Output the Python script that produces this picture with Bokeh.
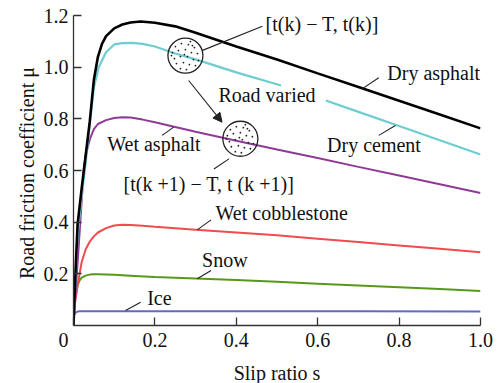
import numpy as np
from bokeh.plotting import figure
from bokeh.models import FixedTicker, Arrow, NormalHead
from bokeh.core.properties import value
from bokeh.embed import file_html
from bokeh.resources import INLINE

# ---------------- data ----------------
s_dry_asphalt = [0, 0.005, 0.01, 0.02, 0.03, 0.04, 0.05, 0.06, 0.07, 0.08, 0.10, 0.12, 0.14,
                 0.165, 0.20, 0.25, 0.30, 0.40, 0.50, 0.60, 0.70, 0.80, 0.90, 1.00]
mu_dry_asphalt = [0.0, 0.21, 0.39, 0.53, 0.66, 0.79, 0.95, 1.04, 1.09, 1.12, 1.15, 1.165, 1.173,
                  1.177, 1.172, 1.158, 1.133, 1.08, 1.03, 0.976, 0.923, 0.87, 0.817, 0.763]

s_dry_cement = [0, 0.005, 0.01, 0.02, 0.03, 0.04, 0.05, 0.062, 0.08, 0.10, 0.12, 0.144, 0.17,
                0.20, 0.25, 0.30, 0.40, 0.51, 0.62, 0.70, 0.80, 0.90, 1.00]
mu_dry_cement = [0.0, 0.18, 0.35, 0.50, 0.63, 0.78, 0.92, 1.0, 1.058, 1.088, 1.093, 1.094, 1.09,
                 1.08, 1.053, 1.03, 0.98, 0.929, 0.871, 0.827, 0.772, 0.717, 0.662]
road_varied_gap = (0.51, 0.62)

s_wet_asphalt = [0, 0.005, 0.01, 0.015, 0.02, 0.025, 0.03, 0.04, 0.05, 0.06, 0.08, 0.10, 0.12,
                 0.14, 0.17, 0.20, 0.30, 0.40, 0.50, 0.60, 0.70, 0.80, 0.90, 1.00]
mu_wet_asphalt = [0.0, 0.13, 0.24, 0.36, 0.48, 0.60, 0.66, 0.72, 0.76, 0.78, 0.795, 0.803, 0.806,
                  0.805, 0.797, 0.787, 0.75, 0.715, 0.681, 0.648, 0.614, 0.581, 0.547, 0.513]

s_wet_cobble = [0, 0.005, 0.01, 0.02, 0.03, 0.04, 0.05, 0.06, 0.08, 0.10, 0.12, 0.14, 0.17,
                0.20, 0.30, 0.40, 0.50, 0.60, 0.70, 0.80, 0.90, 1.00]
mu_wet_cobble = [0.045, 0.10, 0.155, 0.245, 0.295, 0.325, 0.345, 0.36, 0.377, 0.387, 0.39, 0.389,
                 0.386, 0.382, 0.371, 0.36, 0.349, 0.336, 0.323, 0.31, 0.297, 0.284]

s_snow = [0.006, 0.01, 0.015, 0.02, 0.03, 0.04, 0.05, 0.06, 0.08, 0.10, 0.15, 0.20, 0.30,
          0.40, 0.50, 0.60, 0.70, 0.80, 0.90, 1.00]
mu_snow = [0.12, 0.155, 0.175, 0.185, 0.193, 0.197, 0.198, 0.198, 0.197, 0.196, 0.192, 0.188,
           0.182, 0.176, 0.169, 0.162, 0.155, 0.148, 0.141, 0.134]

s_ice = [0, 0.003, 0.006, 0.01, 0.015, 0.03, 0.10, 0.30, 0.50, 0.70, 1.00]
mu_ice = [0.035, 0.046, 0.051, 0.054, 0.055, 0.055, 0.055, 0.055, 0.055, 0.055, 0.054]

x_ticks = [0.0, 0.2, 0.4, 0.6, 0.8, 1.0]
# the origin "0" sits a little left of the corner in the original
x_tick_labels = ["0\u00a0\u00a0\u00a0\u00a0", "0.2", "0.4", "0.6", "0.8", "1.0"]
y_ticks = [0.2, 0.4, 0.6, 0.8, 1.0, 1.2]
y_tick_labels = ["0.2", "0.4", "0.6", "0.8", "1.0", "1.2"]

# ---------------- styling ----------------
FONT = "'Liberation Serif', 'Times New Roman', serif"
FS = "20px"
C_BLACK = "#000000"
C_CYAN = "#6DCDD0"
C_PURPLE = "#8E3A96"
C_RED = "#F04B4E"
C_GREEN = "#57981A"
C_BLUE = "#6468C0"
C_AX = "#333333"

p = figure(frame_width=407, frame_height=310, x_range=(0, 1.0), y_range=(0, 1.2),
           output_backend="svg", toolbar_location=None,
           min_border_left=73, min_border_right=20, min_border_top=15, min_border_bottom=58)
p.outline_line_color = None
p.xgrid.grid_line_color = None
p.ygrid.grid_line_color = None
p.background_fill_color = "white"

for ax in (p.xaxis[0], p.yaxis[0]):
    ax.axis_line_color = C_AX
    ax.axis_line_width = 1.3
    ax.major_tick_line_color = C_AX
    ax.major_tick_line_width = 1.3
    ax.major_tick_in = 8
    ax.major_tick_out = 0
    ax.minor_tick_line_color = None
    ax.major_label_text_font = FONT
    ax.major_label_text_font_size = FS
    ax.major_label_text_color = "#111111"
    ax.axis_label_text_font = FONT
    ax.axis_label_text_font_size = FS
    ax.axis_label_text_font_style = "normal"
    ax.axis_label_text_color = "#111111"

p.xaxis.ticker = FixedTicker(ticks=x_ticks)
p.xaxis.major_label_overrides = {t: l for t, l in zip(x_ticks, x_tick_labels)}
p.yaxis.ticker = FixedTicker(ticks=y_ticks)
p.yaxis.major_label_overrides = {t: l for t, l in zip(y_ticks, y_tick_labels)}
p.xaxis.major_label_standoff = 3
p.yaxis.major_label_standoff = 5
p.xaxis.axis_label = "Slip ratio s"
p.yaxis.axis_label = "Road friction coefficient  μ"
p.xaxis.axis_label_standoff = 8
p.yaxis.axis_label_standoff = 3

# ---------------- curves ----------------
p.line(s_ice, mu_ice, line_color=C_BLUE, line_width=2)
p.line(s_snow, mu_snow, line_color=C_GREEN, line_width=2)
p.line(s_wet_cobble, mu_wet_cobble, line_color=C_RED, line_width=2)
p.line(s_wet_asphalt, mu_wet_asphalt, line_color=C_PURPLE, line_width=2)
sc = np.array(s_dry_cement)
mc = np.array(mu_dry_cement)
m1 = sc <= road_varied_gap[0]
m2 = sc >= road_varied_gap[1]
p.line(sc[m1], mc[m1], line_color=C_CYAN, line_width=2.2)
p.line(sc[m2], mc[m2], line_color=C_CYAN, line_width=2.2)
p.line(s_dry_asphalt, mu_dry_asphalt, line_color=C_BLACK, line_width=2.6)

# ---------------- annotations ----------------
PX_S = 1 / 407.0    # s per pixel
PX_MU = 1 / 258.3   # mu per pixel

circle_centers = [(0.275, 1.045), (0.41, 0.723)]
dot_px = [(-10, -9), (-4, -12), (3, -11), (9, -8), (-13, -3), (-7, -5), (0, -6), (6, -3),
          (12, -2), (-11, 3), (-5, 1), (2, 1), (8, 4), (13, 5), (-9, 8), (-2, 7), (4, 9),
          (10, 10), (-5, 13), (1, 14), (-14, 0), (5, -14), (-1, -1), (7, -10)]
for cx, cy in circle_centers:
    p.scatter([cx], [cy], marker="circle", size=35, fill_color=None,
              line_color="#222222", line_width=1.3)
    dx = [cx + a * PX_S for a, b in dot_px]
    dy = [cy - b * PX_MU for a, b in dot_px]
    p.scatter(dx, dy, marker="circle", size=1.8, fill_color="#222222", line_color=None)

p.add_layout(Arrow(end=NormalHead(size=9, fill_color="#222222", line_color="#222222"),
                   x_start=0.283, y_start=0.9485, x_end=0.365, y_end=0.787,
                   line_color="#222222", line_width=1.1))

leaders = [
    ((0.317, 1.065), (0.464, 1.158)),
    ((0.750, 0.959), (0.709, 0.916)),
    ((0.791, 0.774), (0.750, 0.736)),
    ((0.246, 0.768), (0.218, 0.736)),
    ((0.338, 0.409), (0.304, 0.370)),
    ((0.338, 0.213), (0.304, 0.181)),
    ((0.165, 0.090), (0.128, 0.058)),
    ((0.382, 0.645), (0.345, 0.606)),
]
p.segment(x0=[a[0] for a, b in leaders], y0=[a[1] for a, b in leaders],
          x1=[b[0] for a, b in leaders], y1=[b[1] for a, b in leaders],
          line_color="#222222", line_width=1.1)

labels = [
    ("[t(k) − T, t(k)]", 0.472, 1.169),
    ("Road varied", 0.356, 0.894),
    ("[t(k +1) − T, t (k +1)]", 0.123, 0.546),
    ("Dry asphalt", 0.771, 0.976),
    ("Dry cement", 0.623, 0.697),
    ("Wet asphalt", 0.083, 0.701),
    ("Wet cobblestone", 0.349, 0.437),
    ("Snow", 0.316, 0.252),
    ("Ice", 0.181, 0.106),
]
p.text(x=[l[1] for l in labels], y=[l[2] for l in labels], text=[l[0] for l in labels],
       text_font=value(FONT), text_font_size=FS, text_color="#111111",
       text_align="left", text_baseline="middle")

open("out.html", "w").write(file_html(p, INLINE))
